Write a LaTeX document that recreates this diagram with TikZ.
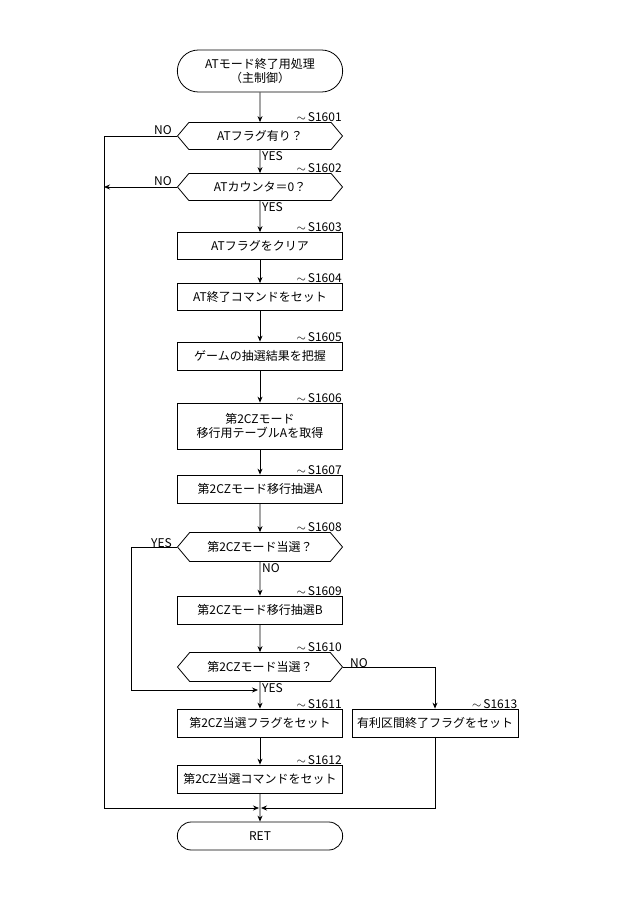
\documentclass[tikz,border=0pt]{standalone}
\usepackage{fontspec}
\setmainfont{Noto Sans CJK JP}
\usetikzlibrary{shapes.misc,shapes.symbols,arrows.meta}
\begin{document}
\begin{tikzpicture}[x=1pt,y=-1pt,
  every node/.style={font=\fontsize{12}{14}\selectfont},
  proc/.style={draw,line width=0.8pt,minimum width=165pt,minimum height=28pt,inner sep=1pt,align=center},
  term/.style={draw,line width=0.8pt,rounded rectangle,minimum width=172pt,minimum height=28pt,align=center},
  dec/.style={draw,line width=0.8pt,signal,signal to=east and west,signal pointer angle=100,minimum width=165pt,minimum height=27pt,inner sep=1pt},
  lab/.style={font=\fontsize{12}{14}\selectfont,inner sep=1pt},
  stp/.style={font=\fontsize{12}{14}\selectfont,inner sep=1pt,anchor=south east},
  ln/.style={line width=0.8pt},
  ar/.style={line width=0.8pt,-{Stealth[length=6pt,width=5pt]}}]
\useasboundingbox (0,0) rectangle (640,908);
\node[term,minimum height=42pt] (start) at (260,71) {ATモード終了用処理\\（主制御）};
\node[dec] (s1) at (260,136) {ATフラグ有り？};
\node[dec] (s2) at (260,187) {ATカウンタ＝0？};
\node[proc,minimum height=27pt] (s3) at (260,246) {ATフラグをクリア};
\node[proc,minimum height=27pt] (s4) at (260,297) {AT終了コマンドをセット};
\node[proc] (s5) at (260,356) {ゲームの抽選結果を把握};
\node[proc,minimum height=46pt] (s6) at (260,426) {第2CZモード\\移行用テーブルAを取得};
\node[proc] (s7) at (260,489) {第2CZモード移行抽選A};
\node[dec,minimum height=29pt] (s8) at (260,547) {第2CZモード当選？};
\node[proc] (s9) at (260,610) {第2CZモード移行抽選B};
\node[dec,minimum height=29pt] (s10) at (260,667) {第2CZモード当選？};
\node[proc] (s11) at (260,723) {第2CZ当選フラグをセット};
\node[proc] (s12) at (260,779) {第2CZ当選コマンドをセット};
\node[proc,minimum width=166pt] (s13) at (435,723) {有利区間終了フラグをセット};
\node[term] (ret) at (260,836) {RET};
\foreach \n/\t in {s1/S1601,s2/S1602,s3/S1603,s4/S1604,s5/S1605,s6/S1606,s7/S1607,s8/S1608,s9/S1609,s10/S1610,s11/S1611,s12/S1612}
  \node[stp] at ([yshift=-1pt]\n.north -| s3.east) {$\sim$\,\t};
\node[stp] at ([yshift=-1pt]s13.north east) {$\sim$\,S1613};
\coordinate (m) at (260,808);
\coordinate (l1) at (104,136);
\coordinate (l2) at (104,187);
\coordinate (lb) at (104,808);
\coordinate (y1) at (131,547);
\coordinate (y2) at (131,690);
\coordinate (y3) at (260,690);
\coordinate (rb) at (435,808);
\draw[ar] (start) -- (s1);
\draw[ar] (s1) -- (s2);
\draw[ar] (s2) -- (s3);
\draw[ar] (s3) -- (s4);
\draw[ar] (s4) -- (s5);
\draw[ar] (s5) -- (s6);
\draw[ar] (s6) -- (s7);
\draw[ar] (s7) -- (s8);
\draw[ar] (s8) -- (s9);
\draw[ar] (s9) -- (s10);
\draw[ar] (s10) -- (s11);
\draw[ar] (s11) -- (s12);
\draw[ar] (s12) -- (ret);
\draw[ln] (s1.west) -- (l1) -- (lb);
\draw[ar] (s2.west) -- (l2);
\draw[ar] (lb) -- ([xshift=-1pt]m);
\draw[ar] (s13.south) |- ([xshift=1pt]m);
\draw[ar] (s8.west) -- (y1) -- (y2) -- ([xshift=-2pt]y3);
\draw[ar] (s10.east) -| (s13.north);
\node[lab,anchor=south east] at ([xshift=-4pt]s1.west) {NO};
\node[lab,anchor=south east] at ([xshift=-4pt]s2.west) {NO};
\node[lab,anchor=south east] at ([xshift=-4pt,yshift=-2pt]s8.west) {YES};
\node[lab,anchor=south west] at ([xshift=6pt,yshift=-2pt]s10.east) {NO};
\node[lab,anchor=north west] at ([xshift=1pt]s1.south) {YES};
\node[lab,anchor=north west] at ([xshift=1pt]s2.south) {YES};
\node[lab,anchor=north west] at ([xshift=1pt]s8.south) {NO};
\node[lab,anchor=north west] at ([xshift=1pt]s10.south) {YES};
\end{tikzpicture}
\end{document}
